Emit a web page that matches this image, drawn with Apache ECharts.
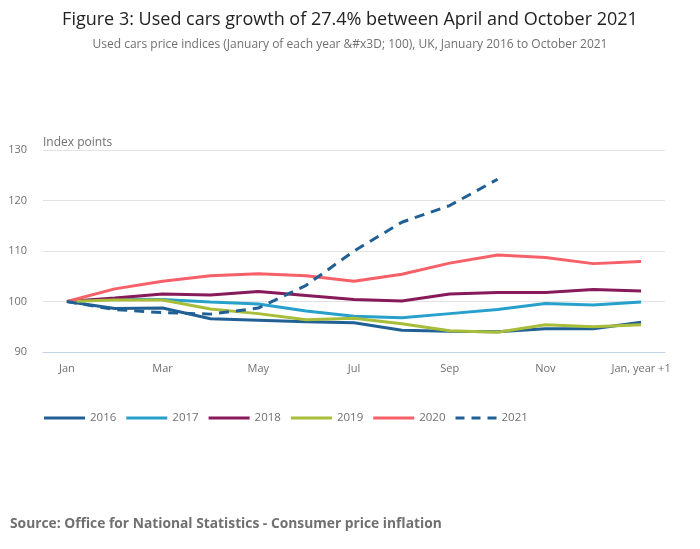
<!DOCTYPE html>
<html>
<head>
<meta charset="utf-8">
<style>
  html, body { margin: 0; padding: 0; background: #fff; }
  #main { width: 700px; height: 549px; }
</style>
<script src="https://cdn.jsdelivr.net/npm/echarts@6/dist/echarts.min.js"></script>
</head>
<body>
<div id="main"></div>
<script>
// months, Jan of the year to Jan of the next year
const months = ['Jan', 'Feb', 'Mar', 'Apr', 'May', 'Jun', 'Jul', 'Aug', 'Sep', 'Oct', 'Nov', 'Dec', 'Jan, year +1']
const years = ['2016', '2017', '2018', '2019', '2020', '2021']

const y2016 = [100, 98.6, 98.7, 96.6, 96.3, 96.0, 95.8, 94.3, 94.1, 94.0, 94.6, 94.6, 95.9]
const y2017 = [100, 100.5, 100.4, 99.9, 99.5, 98.1, 97.1, 96.8, 97.6, 98.4, 99.6, 99.3, 99.9]
const y2018 = [100, 100.7, 101.5, 101.3, 102.0, 101.2, 100.4, 100.1, 101.5, 101.8, 101.8, 102.4, 102.1]
const y2019 = [100, 100.3, 100.3, 98.5, 97.6, 96.4, 96.7, 95.6, 94.2, 93.9, 95.4, 95.0, 95.4]
const y2020 = [100, 102.5, 104.0, 105.1, 105.5, 105.1, 104.0, 105.4, 107.6, 109.2, 108.7, 107.5, 107.9]
const y2021 = [100, 98.4, 97.8, 97.5, 98.7, 103.2, 110.0, 115.7, 119.0, 124.2]

const grey = '#707070'
const font = '"Open Sans", sans-serif'

// legend keys: a plain bar, or three dashes for the dashed series
const solidIcon = 'path://M0,0h41v3h-41z'
const dashIcon = 'path://M0,0h9v3h-9z M16,0h9v3h-9z M32,0h9v3h-9z'

function line (name, data, color, dash) {
  return {
    name: name,
    type: 'line',
    data: data,
    symbol: 'none',
    lineStyle: { color: color, width: 3, type: dash || 'solid' },
    itemStyle: { color: color }
  }
}

const chart = echarts.init(document.getElementById('main'))
chart.setOption({
  animation: false,
  textStyle: { fontFamily: font },
  title: [
    {
      text: 'Figure 3: Used cars growth of 27.4% between April and October 2021',
      subtext: 'Used cars price indices (January of each year &#x3D; 100), UK, January 2016 to October 2021',
      left: 'center',
      top: 6,
      itemGap: 10,
      textStyle: { fontFamily: font, fontSize: 18, fontWeight: 'normal', color: '#222' },
      subtextStyle: { fontFamily: font, fontSize: 12, color: grey }
    },
    {
      text: 'Source: Office for National Statistics - Consumer price inflation',
      left: 5,
      top: 512,
      textStyle: { fontFamily: font, fontSize: 13.8, fontWeight: 'bold', color: grey }
    }
  ],
  legend: {
    left: 39,
    top: 407,
    itemWidth: 41,
    itemHeight: 3,
    itemGap: 10,
    textStyle: { fontFamily: font, fontSize: 11.5, color: grey },
    data: years.map(function (y) {
      return { name: y, icon: y === '2021' ? dashIcon : solidIcon }
    })
  },
  grid: { left: 43, right: 35, top: 150, bottom: 197, containLabel: false },
  xAxis: {
    type: 'category',
    data: months,
    boundaryGap: true,
    axisLine: { lineStyle: { color: '#c4d2e7', width: 1 } },
    axisTick: { alignWithLabel: true, interval: 1, length: 6, lineStyle: { color: '#c4d2e7' } },
    axisLabel: { interval: 1, color: grey, fontSize: 11, margin: 11, fontFamily: font }
  },
  yAxis: {
    type: 'value',
    min: 90,
    max: 130,
    interval: 10,
    name: 'Index points',
    nameLocation: 'end',
    nameGap: 1,
    nameTextStyle: { align: 'left', color: grey, fontSize: 12, fontFamily: font },
    axisLine: { show: false },
    axisTick: { show: false },
    axisLabel: { color: grey, fontSize: 11, margin: 16, fontFamily: font },
    splitLine: { lineStyle: { color: '#e2e2e2', width: 1 } }
  },
  series: [
    line('2016', y2016, '#206095'),
    line('2017', y2017, '#27a0cc'),
    line('2018', y2018, '#871a5b'),
    line('2019', y2019, '#a8bd3a'),
    line('2020', y2020, '#f66068'),
    line('2021', y2021, '#206095', [10, 7])
  ]
})
</script>
</body>
</html>
